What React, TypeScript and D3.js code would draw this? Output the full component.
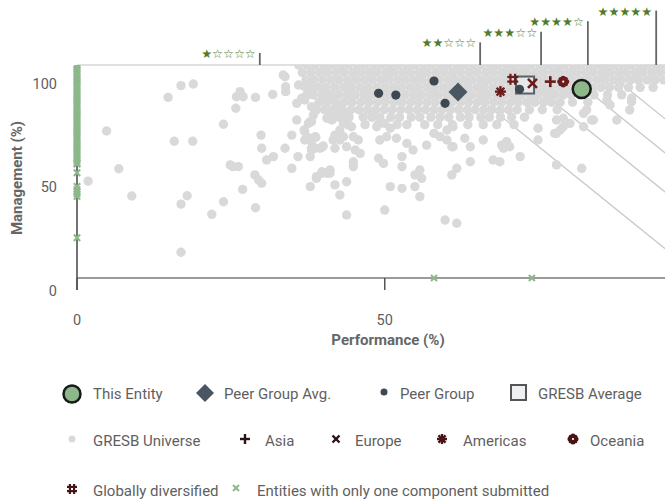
import React from 'react';
import * as d3 from 'd3';

// ---------- DATA ----------
const xTicks = [0, 50];
const yTicks = [0, 50, 100];

const starLabels = ['★☆☆☆☆', '★★☆☆☆', '★★★☆☆', '★★★★☆', '★★★★★'];
const starThresholds = [29.7, 65.5, 75.4, 83.0, 94.1]; // performance position of the tick
const ratingLineScores = [71, 79, 84.5, 89.3]; // 0.7*P + 0.3*M

// GRESB Universe – scattered points [performance, management]
const universeScatter: [number, number][] = [
  [4.8, 69.0], [6.8, 51.3], [1.8, 45.5], [8.9, 38.5], [14.8, 84.8], [16.9, 90.3], [18.9, 91.1], [15.8, 64.2],
  [18.8, 64.2], [16.9, 34.7], [17.9, 38.6], [16.9, 12.1], [21.9, 29.9], [23.8, 35.8], [23.8, 72.2], [24.9, 53.1],
  [25.3, 52.3], [26.2, 52.3], [25.9, 85.1], [26.5, 87.5], [27.0, 85.1], [25.8, 79.7], [26.9, 41.6], [29.0, 84.8],
  [29.0, 33.0], [28.9, 48.4], [29.5, 46.0], [30.0, 44.5], [29.9, 67.1], [30.0, 60.9], [30.8, 55.4], [31.9, 57.0],
  [31.8, 86.2], [33.5, 95.3], [33.8, 94.5], [33.9, 87.5], [33.9, 89.8], [33.8, 60.9], [34.9, 51.5], [35.9, 57.0],
  [34.9, 67.1], [35.7, 74.2], [35.7, 82.0], [36.5, 84.4], [37.3, 85.9], [36.0, 90.6], [37.0, 90.6], [38.1, 89.1],
  [36.9, 69.5], [37.6, 72.6], [37.0, 64.8], [38.1, 64.0], [38.1, 60.9], [38.7, 60.9], [39.8, 61.4], [37.9, 57.0],
  [37.9, 42.9], [38.9, 46.8], [39.8, 49.2], [41.1, 49.2], [41.9, 43.7], [42.7, 39.0], [43.8, 29.6], [43.8, 45.2],
  [38.9, 78.9], [38.4, 76.5], [37.9, 73.4], [37.9, 65.6], [38.8, 66.1], [40.0, 86.7], [40.8, 83.6], [41.1, 78.9],
  [42.2, 75.7], [40.6, 75.0], [41.4, 74.2], [42.7, 81.2], [43.8, 77.3], [43.5, 73.4], [41.9, 67.1], [42.7, 64.8],
  [43.3, 66.3], [41.9, 60.9], [43.8, 61.6], [37.0, 89.8], [37.0, 83.6], [38.1, 80.4], [38.1, 73.4], [37.0, 68.7],
  [38.7, 66.3], [38.1, 60.1], [39.5, 60.9], [40.0, 62.0], [41.6, 64.8], [42.2, 67.1], [42.7, 69.5], [43.3, 72.6],
  [44.6, 71.0], [44.9, 66.3], [45.7, 64.8], [45.2, 60.1], [46.0, 58.5], [44.9, 54.6], [44.9, 52.3], [38.9, 47.6],
  [39.8, 49.9], [40.6, 49.2], [49.0, 56.2], [49.8, 53.8], [52.8, 57.0], [52.8, 52.3], [50.9, 42.9], [52.8, 42.1],
  [54.9, 42.9], [55.7, 50.7], [56.0, 46.8], [55.7, 38.2], [50.0, 31.9], [49.2, 64.8], [50.3, 66.3], [51.9, 65.6],
  [53.6, 63.2], [54.6, 60.1], [48.7, 71.0], [50.0, 72.6], [50.9, 70.3], [60.9, 48.4], [61.7, 51.5], [59.8, 27.2],
  [61.7, 25.7], [59.0, 66.3], [60.1, 64.8], [61.1, 61.6], [56.8, 62.4], [58.0, 67.9], [60.1, 69.5], [61.1, 71.0],
  [67.6, 55.4], [68.7, 54.6], [63.9, 54.6], [72.0, 57.0], [66.0, 64.8], [69.8, 64.0], [69.3, 60.9], [70.3, 61.6],
  [74.9, 64.8], [74.9, 70.3], [77.9, 53.1], [82.0, 51.5], [77.9, 67.9], [79.0, 71.0], [80.1, 72.6], [79.0, 75.0],
  [82.8, 78.9], [83.9, 74.2], [82.3, 71.0], [87.7, 74.2], [89.8, 78.9], [90.1, 84.4], [86.1, 83.6], [41.1, 50.7],
  [54.9, 48.4], [60.9, 61.6], [63.0, 65.6], [63.9, 61.6], [69.0, 62.4], [77.9, 74.2], [78.5, 69.5], [77.6, 67.9],
  [82.3, 77.3], [83.6, 74.2], [86.6, 81.2], [90.1, 82.8],
];

// GRESB Universe – dense band near the top, one row per management level
const bandRowLevels = [100, 96.5, 93, 89.5, 86, 82.5, 79, 75.5, 72];
const bandRowPerformance: number[][] = [
  [36.0, 37.4, 38.7, 40.1, 41.4, 42.8, 44.1, 45.5, 46.8, 48.2, 49.5, 50.9, 52.2, 53.6, 54.9, 56.3, 57.6, 59.0, 60.3, 61.7, 63.0, 64.4, 65.7, 67.1, 68.4, 69.8, 71.1, 72.5, 73.8, 75.2, 76.5, 77.9, 79.2, 80.6, 81.9, 83.3, 84.6, 86.0, 87.3, 88.7, 90.0, 91.4, 92.7, 94.1, 95.4, 96.8],
  [36.6, 38.0, 39.4, 40.7, 42.1, 43.4, 44.8, 46.1, 47.5, 48.8, 50.2, 51.5, 52.9, 54.2, 55.6, 56.9, 58.3, 59.6, 61.0, 62.3, 63.7, 65.0, 66.4, 67.7, 69.1, 70.4, 71.8, 73.1, 74.5, 75.8, 77.2, 78.5, 79.9, 81.2, 82.6, 83.9, 85.3, 86.6, 88.0, 89.3, 90.7, 92.0, 93.4, 94.7, 96.1],
  [37.2, 38.5, 39.9, 41.3, 42.6, 44.0, 45.3, 46.7, 48.0, 49.4, 50.7, 52.1, 53.4, 54.8, 56.1, 57.5, 58.8, 60.2, 61.5, 62.9, 64.2, 65.6, 66.9, 68.3, 69.6, 71.0, 72.3, 73.7, 75.0, 76.4, 77.7, 79.1, 80.4, 81.8, 83.1, 84.5, 85.8, 87.2, 88.5, 89.9, 91.2, 92.6, 93.9, 95.3, 96.6],
  [37.8, 39.2, 40.5, 41.9, 43.3, 44.6, 46.0, 47.3, 48.7, 50.0, 51.4, 52.7, 54.1, 55.4, 56.8, 58.1, 59.5, 60.8, 62.2, 63.5, 64.9, 66.2, 67.6, 68.9, 70.3, 71.6, 73.0, 74.3, 75.7, 77.0, 78.4, 79.7, 81.1, 82.4, 83.8, 85.1, 86.5, 88.0, 89.6, 91.5, 93.6],
  [38.4, 39.8, 41.2, 42.5, 43.9, 45.2, 46.6, 47.9, 49.3, 50.6, 52.0, 53.3, 54.7, 56.0, 57.4, 58.7, 60.1, 61.4, 62.8, 64.1, 65.5, 66.8, 68.2, 69.5, 70.9, 72.2, 73.6, 74.9, 76.3, 77.6, 79.0, 80.3, 81.7, 84.0, 86.2, 88.5],
  [39.3, 40.6, 42.0, 43.4, 44.7, 46.1, 47.4, 48.8, 50.1, 51.5, 52.8, 54.2, 55.5, 56.9, 58.2, 59.6, 60.9, 62.3, 63.6, 65.0, 66.3, 67.7, 69.0, 70.4, 71.7, 73.1, 74.4, 75.8, 77.1, 78.5, 80.5, 83.0],
  [40.2, 41.8, 43.1, 44.5, 45.8, 47.2, 48.5, 49.9, 51.2, 52.6, 53.9, 55.3, 56.6, 58.0, 59.3, 60.7, 62.0, 63.4, 64.7, 66.1, 67.4, 68.8, 70.1, 71.5, 73.5, 75.6, 78.0],
  [41.0, 42.6, 44.2, 46.5, 47.9, 49.2, 51.0, 52.4, 54.3, 55.7, 57.5, 59.0, 60.4, 62.3, 63.7, 65.6, 67.0, 68.8, 70.6, 72.7],
  [44.0, 46.8, 48.9, 52.0, 53.6, 56.5, 58.6, 61.0, 63.5, 66.0, 68.2, 71.0],
];

// Entities with only one component submitted
const zeroPerformanceMgmt = [
  100, 99, 98, 97, 96, 95, 94, 93, 92, 91, 90, 89, 88, 87, 86, 85, 84, 83, 82, 81, 80, 79, 78, 77, 76, 75, 74, 73,
  72, 71, 70, 69, 68, 67, 66, 65, 64, 63, 62, 61, 60, 59, 58, 57, 56, 55, 54, 53.5, 49.4, 43.0, 41.5, 40.5, 39.5,
  38.3, 18.9,
];
const zeroManagementPerf = [58.0, 73.9];

const peerGroup: [number, number][] = [[49.0, 86.7], [51.8, 85.9], [58.0, 92.5], [59.8, 82.0], [71.9, 88.6]];
const peerGroupAvg: [number, number] = [61.9, 87.3];
const gresbAverage: [number, number] = [72.8, 90.6];
const thisEntity: [number, number] = [82.0, 88.7];
const asia: [number, number] = [76.9, 92.2];
const europe: [number, number] = [74.0, 91.4];
const americas: [number, number] = [68.8, 87.5];
const oceania: [number, number] = [79.0, 92.2];
const globallyDiversified: [number, number] = [70.8, 93.3];

// ---------- STYLE ----------
const FONT = 'Roboto, sans-serif';
const TEXT = '#5f5f5f';
const GREY_PT = '#d9d9d9';
const PEER = '#3d4852';
const PEER_AVG = '#4a5763';
const MAROON = '#6a1c1c';
const GREEN_X = '#8db88a';
const STAR_GREEN = '#4f7b2b';

function XMark({ cx, cy, s, color, w }: { cx: number; cy: number; s: number; color: string; w: number }) {
  return (
    <g stroke={color} strokeWidth={w} strokeLinecap="butt">
      <line x1={cx - s} y1={cy - s} x2={cx + s} y2={cy + s} />
      <line x1={cx - s} y1={cy + s} x2={cx + s} y2={cy - s} />
    </g>
  );
}
function Plus({ cx, cy, s, color, w }: { cx: number; cy: number; s: number; color: string; w: number }) {
  return (
    <g stroke={color} strokeWidth={w}>
      <line x1={cx - s} y1={cy} x2={cx + s} y2={cy} />
      <line x1={cx} y1={cy - s} x2={cx} y2={cy + s} />
    </g>
  );
}
function Hash({ cx, cy, s, color }: { cx: number; cy: number; s: number; color: string }) {
  const o = s * 0.42;
  return (
    <g stroke={color} strokeWidth={2.2}>
      <line x1={cx - o} y1={cy - s} x2={cx - o} y2={cy + s} />
      <line x1={cx + o} y1={cy - s} x2={cx + o} y2={cy + s} />
      <line x1={cx - s} y1={cy - o} x2={cx + s} y2={cy - o} />
      <line x1={cx - s} y1={cy + o} x2={cx + s} y2={cy + o} />
    </g>
  );
}
function Asterisk({ cx, cy, s, color }: { cx: number; cy: number; s: number; color: string }) {
  const angles = [0, 45, 90, 135];
  return (
    <g stroke={color} strokeWidth={2.4} fill={color}>
      {angles.map((a) => {
        const r = (a * Math.PI) / 180;
        return <line key={a} x1={cx - s * Math.cos(r)} y1={cy - s * Math.sin(r)} x2={cx + s * Math.cos(r)} y2={cy + s * Math.sin(r)} />;
      })}
      <circle cx={cx} cy={cy} r={s * 0.45} stroke="none" />
    </g>
  );
}
function Flower({ cx, cy, s, color }: { cx: number; cy: number; s: number; color: string }) {
  const big = [0, 90, 180, 270];
  const small = [45, 135, 225, 315];
  return (
    <g fill={color}>
      {big.map((a) => {
        const r = (a * Math.PI) / 180;
        return <circle key={a} cx={cx + s * 0.5 * Math.cos(r)} cy={cy + s * 0.5 * Math.sin(r)} r={s * 0.42} />;
      })}
      {small.map((a) => {
        const r = (a * Math.PI) / 180;
        return <circle key={a} cx={cx + s * 0.62 * Math.cos(r)} cy={cy + s * 0.62 * Math.sin(r)} r={s * 0.28} />;
      })}
      <circle cx={cx} cy={cy} r={s * 0.16} fill="#fff" />
    </g>
  );
}
function Diamond({ cx, cy, r, color }: { cx: number; cy: number; r: number; color: string }) {
  const p = d3.path();
  p.moveTo(cx, cy - r);
  p.lineTo(cx + r, cy);
  p.lineTo(cx, cy + r);
  p.lineTo(cx - r, cy);
  p.closePath();
  return <path d={p.toString()} fill={color} />;
}

export default function App() {
  const x = d3.scaleLinear().domain([0, 100]).range([77, 692.5]);
  const y = d3.scaleLinear().domain([0, 100]).range([278, 65]);
  const yLabel = d3.scaleLinear().domain([0, 100]).range([291, 84]);

  const band: [number, number][] = bandRowLevels.flatMap((m, i) => bandRowPerformance[i].map((p) => [p, m] as [number, number]));
  const universe = [...band, ...universeScatter];

  const line = d3.line<[number, number]>().x((d) => x(d[0])).y((d) => y(d[1]));

  const legendRow1 = 394;
  const legendRow2 = 441;
  const legendRow3 = 491;

  return (
    <svg width={665} height={504} style={{ position: 'absolute', left: 0, top: 0, background: '#fff' }} fontFamily={FONT}>
      <defs>
        <clipPath id="plotTop">
          <rect x={0} y={y(100)} width={665} height={300} />
        </clipPath>
        <clipPath id="plotArea">
          <rect x={x(0)} y={y(100)} width={665 - x(0)} height={y(0) - y(100)} />
        </clipPath>
      </defs>

      {/* top border */}
      <line x1={x(0)} x2={665} y1={y(100)} y2={y(100)} stroke="#e0e0e0" strokeWidth={2} />

      {/* rating iso-score lines */}
      <g clipPath="url(#plotArea)">
        {ratingLineScores.map((s) => (
          <path
            key={s}
            d={line([[(s - 30) / 0.7, 100], [s / 0.7, 0]]) || ''}
            stroke="#c9c9c9"
            strokeWidth={1.3}
            fill="none"
          />
        ))}
      </g>

      {/* GRESB universe */}
      <g clipPath="url(#plotTop)">
        {universe.map((d, i) => (
          <circle key={i} cx={x(d[0])} cy={y(d[1])} r={4.7} fill={GREY_PT} />
        ))}
      </g>

      {/* axes */}
      <line x1={x(0)} x2={665} y1={y(0)} y2={y(0)} stroke="#7a7a7a" strokeWidth={1.5} />
      <line x1={x(0)} x2={x(0)} y1={y(100)} y2={y(0) + 12} stroke="#444" strokeWidth={1.5} />
      {xTicks.map((t) => (
        <g key={t}>
          <line x1={x(t)} x2={x(t)} y1={y(0)} y2={y(0) + 12} stroke="#555" strokeWidth={1.5} />
          <text x={x(t)} y={320} textAnchor="middle" dominantBaseline="central" fontSize={14.5} fill={TEXT}>
            {t}
          </text>
        </g>
      ))}
      {yTicks.map((t) => (
        <text key={t} x={57} y={yLabel(t)} textAnchor="end" dominantBaseline="central" fontSize={14.5} fill={TEXT}>
          {t}
        </text>
      ))}
      <text x={388} y={340} textAnchor="middle" dominantBaseline="central" fontSize={15} fontWeight="bold" fill="#666">
        Performance (%)
      </text>
      <text
        transform={`translate(17,178) rotate(-90)`}
        textAnchor="middle"
        dominantBaseline="central"
        fontSize={15}
        fontWeight="bold"
        fill="#666"
      >
        Management (%)
      </text>

      {/* entities with only one component */}
      <g clipPath="url(#plotTop)">
        {zeroPerformanceMgmt.map((m, i) => (
          <XMark key={'zp' + i} cx={x(0)} cy={y(m)} s={3.2} color={GREEN_X} w={2} />
        ))}
        {zeroManagementPerf.map((p, i) => (
          <XMark key={'zm' + i} cx={x(p)} cy={y(0)} s={3} color={GREEN_X} w={2} />
        ))}
      </g>

      {/* star rating thresholds */}
      {starThresholds.map((t, i) => {
        const ly = 54 - i * 10.6;
        return (
          <g key={i}>
            <line x1={x(t)} x2={x(t)} y1={ly - 1} y2={y(100)} stroke="#666" strokeWidth={1.8} />
            <text
              x={x(t) - 4}
              y={ly}
              textAnchor="end"
              dominantBaseline="central"
              fontFamily="DejaVu Sans"
              fontSize={12.2}
              fill={STAR_GREEN}
            >
              {starLabels[i]}
            </text>
          </g>
        );
      })}

      {/* GRESB average */}
      <rect
        x={x(gresbAverage[0]) - 9}
        y={y(gresbAverage[1]) - 8.5}
        width={18}
        height={17}
        fill="rgba(240,242,245,0.55)"
        stroke="#5a6068"
        strokeWidth={2}
      />
      {/* peer group */}
      {peerGroup.map((d, i) => (
        <circle key={i} cx={x(d[0])} cy={y(d[1])} r={4.6} fill={PEER} />
      ))}
      <Diamond cx={x(peerGroupAvg[0])} cy={y(peerGroupAvg[1])} r={9.5} color={PEER_AVG} />

      {/* regions */}
      <Asterisk cx={x(americas[0])} cy={y(americas[1])} s={5.5} color={MAROON} />
      <Hash cx={x(globallyDiversified[0])} cy={y(globallyDiversified[1])} s={5.5} color={MAROON} />
      <XMark cx={x(europe[0])} cy={y(europe[1])} s={4.5} color={MAROON} w={2.6} />
      <Plus cx={x(asia[0])} cy={y(asia[1])} s={5.5} color={MAROON} w={2.6} />
      <Flower cx={x(oceania[0])} cy={y(oceania[1])} s={6.5} color={MAROON} />

      {/* this entity */}
      <circle cx={x(thisEntity[0])} cy={y(thisEntity[1])} r={9} fill="#8db88a" stroke="#1a1a1a" strokeWidth={2.5} />

      {/* legend */}
      <g fontSize={15} fill={TEXT}>
        <circle cx={72} cy={legendRow1} r={8.5} fill="#8db88a" stroke="#1a1a1a" strokeWidth={2.5} />
        <text x={93} y={legendRow1} dominantBaseline="central">This Entity</text>
        <Diamond cx={205} cy={legendRow1 - 1} r={9} color={PEER_AVG} />
        <text x={224} y={legendRow1} dominantBaseline="central">Peer Group Avg.</text>
        <circle cx={384} cy={legendRow1 - 2} r={3.5} fill={PEER} />
        <text x={400} y={legendRow1} dominantBaseline="central">Peer Group</text>
        <rect x={511} y={legendRow1 - 9} width={15} height={15} fill="#eef0f2" stroke="#555" strokeWidth={2} />
        <text x={538} y={legendRow1} dominantBaseline="central">GRESB Average</text>

        <circle cx={72} cy={legendRow2 - 2} r={3.5} fill={GREY_PT} />
        <text x={93} y={legendRow2} dominantBaseline="central">GRESB Universe</text>
        <Plus cx={245} cy={legendRow2 - 2} s={5} color="#2a1414" w={2.4} />
        <text x={265} y={legendRow2} dominantBaseline="central">Asia</text>
        <XMark cx={336} cy={legendRow2 - 2} s={3.5} color="#2a1414" w={2.4} />
        <text x={355} y={legendRow2} dominantBaseline="central">Europe</text>
        <Asterisk cx={442} cy={legendRow2 - 2} s={5} color="#4a1414" />
        <text x={463} y={legendRow2} dominantBaseline="central">Americas</text>
        <Flower cx={573} cy={legendRow2 - 2} s={6} color="#4a1414" />
        <text x={590} y={legendRow2} dominantBaseline="central">Oceania</text>

        <Hash cx={72} cy={legendRow3 - 2} s={5} color="#4a1414" />
        <text x={93} y={legendRow3} dominantBaseline="central">Globally diversified</text>
        <XMark cx={236} cy={legendRow3 - 3} s={3} color={GREEN_X} w={2} />
        <text x={257} y={legendRow3} dominantBaseline="central">Entities with only one component submitted</text>
      </g>
    </svg>
  );
}
